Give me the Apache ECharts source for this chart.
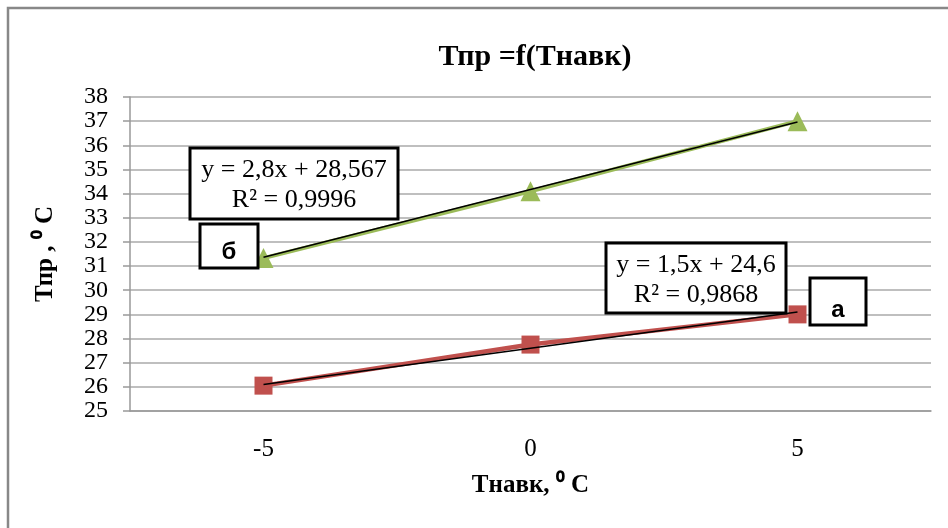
<!DOCTYPE html>
<html>
<head>
<meta charset="utf-8">
<script src="https://cdn.jsdelivr.net/npm/echarts@6/dist/echarts.min.js"></script>
<style>
  html, body { margin: 0; padding: 0; background: #fff; }
  #chart { width: 948px; height: 528px; }
</style>
</head>
<body>
<div id="chart"></div>
<script>
// данные графика
const categories = ['-5', '0', '5'];
const seriesA = [26.05, 27.75, 29.0];   // а, красные квадраты
const seriesB = [31.33, 34.1, 37.0];    // б, зелёные треугольники
// линии тренда Excel (x = номер точки 1..3)
const trendA = { slope: 1.5, intercept: 24.6, r2: '0,9868', text: 'y = 1,5x + 24,6' };
const trendB = { slope: 2.8, intercept: 28.567, r2: '0,9996', text: 'y = 2,8x + 28,567' };
const yTicks = { min: 25, max: 38, step: 1 };

const trendValues = (t) => categories.map((_, i) => +(t.slope * (i + 1) + t.intercept).toFixed(3));

const serif = '"Liberation Serif", "Times New Roman", serif';
const sans = '"Liberation Sans", Arial, sans-serif';

const chart = echarts.init(document.getElementById('chart'));

function box(x, y, w, h) {
  return {
    type: 'rect',
    shape: { x, y, width: w, height: h },
    style: { fill: '#fff', stroke: '#000', lineWidth: 3 },
    z: 100,
  };
}
function label(x, y, text, font, size, weight) {
  return {
    type: 'text',
    x, y,
    style: {
      text, fill: '#000', font: `${weight || 'normal'} ${size}px ${font}`,
      textAlign: 'center', textVerticalAlign: 'middle',
    },
    z: 101,
  };
}

chart.setOption({
  animation: false,
  title: {
    text: 'Тпр =f(Тнавк)',
    left: 530,
    top: 37,
    textAlign: 'center',
    textStyle: { fontFamily: serif, fontWeight: 'bold', fontSize: 30, color: '#000' },
  },
  grid: { left: 130, right: 17, top: 97, bottom: 117 },
  xAxis: {
    type: 'category',
    data: categories,
    boundaryGap: true,
    name: 'Тнавк, ⁰ C',
    nameLocation: 'middle',
    nameGap: 62,
    nameTextStyle: { fontFamily: serif, fontWeight: 'bold', fontSize: 25, color: '#000' },
    axisLine: { show: true, lineStyle: { color: '#999', width: 1.5 } },
    axisTick: { show: false },
    axisLabel: { fontFamily: serif, fontSize: 25, color: '#000', margin: 26 },
  },
  yAxis: {
    type: 'value',
    min: yTicks.min,
    max: yTicks.max,
    interval: yTicks.step,
    name: 'Тпр , ⁰ C',
    nameLocation: 'middle',
    nameGap: 72,
    nameTextStyle: { fontFamily: serif, fontWeight: 'bold', fontSize: 25, color: '#000' },
    axisLine: { show: true, lineStyle: { color: '#999', width: 1.5 } },
    axisTick: { show: true, length: 7, lineStyle: { color: '#999', width: 1.5 } },
    axisLabel: {
      fontFamily: serif, fontSize: 24, color: '#000', margin: 22,
      showMinLabel: true, showMaxLabel: true, hideOverlap: false,
    },
    splitLine: { lineStyle: { color: '#aaa', width: 1.5 } },
  },
  series: [
    {
      name: 'а',
      type: 'line',
      data: seriesA,
      symbol: 'rect',
      symbolSize: 18,
      itemStyle: { color: '#C0504D' },
      lineStyle: { color: '#C0504D', width: 4.5 },
      z: 3,
    },
    {
      name: 'б',
      type: 'line',
      data: seriesB,
      symbol: 'triangle',
      symbolSize: 20,
      itemStyle: { color: '#9BBB59' },
      lineStyle: { color: '#9BBB59', width: 4 },
      z: 3,
    },
    {
      name: 'тренд а',
      type: 'line',
      data: trendValues(trendA),
      symbol: 'none',
      lineStyle: { color: '#000', width: 1.5 },
      z: 5,
    },
    {
      name: 'тренд б',
      type: 'line',
      data: trendValues(trendB),
      symbol: 'none',
      lineStyle: { color: '#000', width: 1.5 },
      z: 5,
    },
  ],
  graphic: [
    // рамка диаграммы
    {
      type: 'rect',
      shape: { x: 8, y: 8, width: 960, height: 540 },
      style: { fill: 'none', stroke: '#888', lineWidth: 2.5 },
      z: 0,
    },
    box(190, 148, 208, 71),
    label(294, 170, trendB.text, serif, 26),
    label(294, 200, 'R² = ' + trendB.r2, serif, 26),
    box(200, 224, 58, 44),
    label(229, 252, 'б', sans, 24, 'bold'),
    box(606, 243, 180, 70),
    label(696, 265, trendA.text, serif, 26),
    label(696, 295, 'R² = ' + trendA.r2, serif, 26),
    box(810, 278, 56, 47),
    label(838, 310, 'а', sans, 24, 'bold'),
  ],
});
</script>
</body>
</html>
